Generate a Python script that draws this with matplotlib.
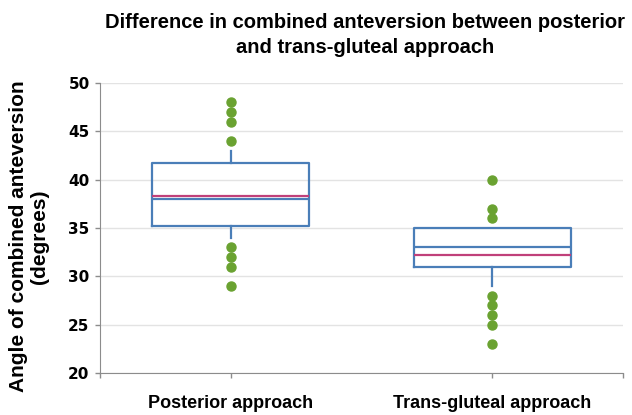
import matplotlib
matplotlib.use("Agg")
import matplotlib.pyplot as plt

# box summaries (degrees)
groups = ["Posterior approach", "Trans-gluteal approach"]
q1 = [35.2, 31.0]
q3 = [41.7, 35.0]
medians = [38.0, 33.0]
means = [38.3, 32.2]
whisk_lo = [34.0, 29.0]
whisk_hi = [43.0, 35.0]
outliers = [
    [48, 47, 46, 44, 33, 32, 31, 29],
    [40, 37, 36, 28, 27, 26, 25, 23],
]
yticks = [20, 25, 30, 35, 40, 45, 50]

BLUE = "#4a7eb8"
PINK = "#c0407a"
GREEN = "#6aa231"
AXC = "#8c8c8c"

fig = plt.figure(figsize=(6.32, 4.15), dpi=100)
ax = fig.add_axes([100 / 632, 1 - 373 / 415, 523 / 632, 290 / 415])

stats = [dict(q1=a, q3=b, med=m, mean=mn, whislo=lo, whishi=hi, fliers=[])
         for a, b, m, mn, lo, hi in zip(q1, q3, medians, means, whisk_lo, whisk_hi)]
pos = list(range(len(groups)))
ax.bxp(stats, positions=pos, widths=0.6, showcaps=False, showfliers=False,
       showmeans=True, meanline=True,
       boxprops=dict(color=BLUE, lw=1.6),
       whiskerprops=dict(color=BLUE, lw=1.6),
       medianprops=dict(color=BLUE, lw=1.6),
       meanprops=dict(color=PINK, lw=1.6, ls="-"),
       zorder=3)
for p, pts in zip(pos, outliers):
    ax.plot([p] * len(pts), pts, "o", color=GREEN, ms=6.5, mec=GREEN, zorder=4)

ax.set_xlim(-0.5, 1.5)
ax.set_ylim(20, 50)
ax.set_yticks(yticks)
ax.set_yticklabels([str(t) for t in yticks], fontfamily="DejaVu Sans",
                   fontweight="bold", fontsize=11)
ax.set_xticks(pos)
ax.set_xticklabels(groups, fontfamily="Liberation Sans", fontweight="bold", fontsize=13)
ax.set_xticks([-0.5, 1.5], minor=True)
ax.tick_params(axis="x", which="both", length=3.5, width=1, pad=12,
               colors=AXC, labelcolor="black")
ax.tick_params(axis="y", length=3.5, width=1, pad=4, colors=AXC, labelcolor="black")
ax.grid(axis="y", color="#e3e3e3", lw=1, zorder=0)
ax.set_axisbelow(True)
for s in ("top", "right"):
    ax.spines[s].set_visible(False)
for s in ("left", "bottom"):
    ax.spines[s].set_color(AXC)

fig.text(365 / 632, 1 - 35 / 415,
         "Difference in combined anteversion between posterior\nand trans-gluteal approach",
         ha="center", va="center", fontfamily="Liberation Sans", fontweight="bold",
         fontsize=14.5, linespacing=1.35)
fig.text(29 / 632, 1 - 236.5 / 415, "Angle of combined anteversion\n(degrees)",
         ha="center", va="center", rotation=90, fontfamily="Liberation Sans",
         fontweight="bold", fontsize=15, linespacing=1.1)

fig.savefig("out.png", dpi=100)
